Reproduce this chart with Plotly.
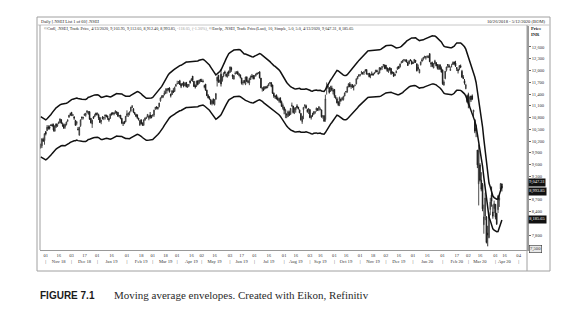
import pandas as pd
import plotly.graph_objects as go

# ---------------- data (NIFTY 50 daily) ----------------
first_day = "2018-10-26"
axis_end = "2020-05-12"
holidays = ["2018-11-08", "2018-11-23", "2018-12-25", "2019-03-04", "2019-03-21",
            "2019-04-17", "2019-04-19", "2019-04-29", "2019-05-01", "2019-06-05",
            "2019-08-12", "2019-08-15", "2019-09-02", "2019-09-10", "2019-10-02",
            "2019-10-08", "2019-10-21", "2019-10-28", "2019-11-12", "2019-12-25",
            "2020-02-21", "2020-03-10", "2020-04-02", "2020-04-06", "2020-04-10",
            "2020-04-14", "2020-05-01"]
special_sessions = ["2019-10-27", "2020-02-01"]

# closes of the 9 sessions before the first plotted day (for the 10-day SMA)
warmup_close = [10472, 10512, 10584, 10453, 10303, 10245, 10146, 10224, 10124]

open_ = [
    10122, 10078, 10240, 10209,
    10441, 10463, 10559, 10553, 10614, 10614, 10607, 10452, 10634, 10580, 10644, 10670, 10740, 10611, 10612, 10568, 10621, 10709, 10808, 10892,
    10930, 10853, 10820, 10728, 10644, 10508, 10350, 10591, 10810, 10784, 10853, 10855, 10930, 10886, 10945, 10780, 10635, 10817, 10820, 10913,
    10881, 10868, 10796, 10699, 10804, 10786, 10863, 10860, 10834, 10777, 10777, 10899, 10920, 10915, 10919, 10949, 10931, 10844, 10859, 10780, 10653, 10702, 10690,
    10851, 10876, 10908, 10965, 11070, 11024, 10931, 10879, 10870, 10783, 10607, 10742, 10664, 10602, 10738, 10782, 10813, 10778, 10866, 10810,
    10842, 10864, 11026, 11068, 11059, 11078, 11226, 11303, 11358, 11376, 11412, 11475, 11541, 11549, 11396, 11387, 11481, 11466, 11626,
    11665, 11711, 11736, 11660, 11638, 11705, 11612, 11698, 11569, 11612, 11736, 11746, 11857, 11727, 11612, 11602, 11735, 11683, 11776,
    11726, 11722, 11605, 11652, 11497, 11360, 11315, 11256, 11151, 11271, 11126, 11264, 11738, 11883, 11724, 11905, 11747, 11855, 11962, 11908, 11844, 11974,
    11954, 12069, 11886, 11780, 11921, 11929, 11963, 11871, 11889, 11811, 11682, 11746, 11649, 11837, 11725, 11681, 11769, 11860, 11874,
    11840, 11868, 11928, 11929, 11964, 11806, 11531, 11537, 11524, 11587, 11556, 11608, 11670, 11687, 11628, 11420, 11348, 11378, 11290, 11224, 11304, 11202, 11035,
    11060, 10896, 10895, 10822, 10936, 10878, 11087, 11092, 10925, 10996, 11094, 11063, 10995, 10905, 10690, 11000, 11106, 11101, 10996, 10987,
    11002, 10790, 10860, 10883, 10928, 10986, 11028, 11007, 10994, 10995, 10836, 10845, 10747, 11542, 11589, 11564, 11469, 11556, 11489,
    11516, 11323, 11276, 11196, 11139, 11267, 11257, 11257, 11349, 11465, 11464, 11580, 11657, 11589, 11642, 11603, 11627, 11657, 11788, 11884,
    11887, 11928, 11946, 11948, 11989, 12023, 11912, 11931, 11865, 11904, 11915, 11914, 11958, 11999, 11922, 11932, 12067, 12069, 12132, 12138,
    12137, 12067, 11970, 12072, 12052, 11939, 11953, 11867, 11944, 12027, 12102, 12095, 12202, 12218, 12267, 12235, 12269, 12211, 12172, 12274, 12247,
    12202, 12199, 12261, 12170, 12079, 11939, 12149, 12271, 12297, 12334, 12350, 12348, 12328, 12431, 12196, 12195, 12061, 12175, 12198, 12148, 12050, 12147, 12053,
    12018, 11627, 11797, 12005, 12151, 12121, 12003, 12108, 12151, 12219, 12190, 12078, 12028, 12038, 12119, 11979, 11827, 11738, 11537, 11354,
    11387, 11290, 11351, 11350, 10943, 10743, 10531, 9969, 9107, 9588, 9198, 9091, 8063, 8284, 8263, 7849, 7735, 8452, 8818, 8386, 8475,
    8584, 8356, 8446, 8689, 8973, 9104,
]
high = [
    10128, 10275, 10285, 10396,
    10441, 10607, 10600, 10600, 10616, 10645, 10645, 10597, 10651, 10646, 10695, 10775, 10761, 10672, 10646, 10638, 10696, 10757, 10862, 10922,
    10942, 10890, 10821, 10735, 10704, 10558, 10567, 10752, 10823, 10815, 10900, 10915, 10986, 10962, 10963, 10782, 10747, 10834, 10894, 10924,
    10923, 10896, 10815, 10741, 10835, 10818, 10870, 10870, 10851, 10783, 10896, 10929, 10930, 10928, 10987, 10949, 10932, 10866, 10865, 10780, 10690, 10710, 10838,
    10983, 10923, 10956, 11072, 11119, 11041, 10932, 10895, 10870, 10793, 10727, 10753, 10666, 10753, 10799, 10822, 10888, 10849, 10940, 10864,
    10877, 10998, 11073, 11089, 11066, 11176, 11309, 11370, 11370, 11487, 11544, 11543, 11556, 11573, 11407, 11497, 11549, 11588, 11658,
    11738, 11729, 11761, 11671, 11673, 11713, 11689, 11699, 11657, 11656, 11738, 11801, 11857, 11727, 11646, 11740, 11749, 11762, 11779,
    11789, 11770, 11633, 11657, 11509, 11396, 11346, 11276, 11250, 11286, 11270, 11427, 11845, 11884, 11769, 12041, 11859, 11957, 11997, 11913, 11968, 12002,
    12103, 12096, 11900, 11879, 11976, 11981, 11992, 11934, 11888, 11814, 11749, 11755, 11842, 11847, 11755, 11815, 11872, 11912, 11885,
    11871, 11918, 11946, 11961, 11982, 11808, 11567, 11593, 11601, 11606, 11632, 11667, 11707, 11703, 11640, 11438, 11360, 11378, 11335, 11307, 11305, 11233, 11159,
    11076, 11024, 10895, 10977, 10975, 11043, 11181, 11092, 11057, 11068, 11138, 11071, 11000, 10908, 10845, 11070, 11142, 11129, 11021, 11043,
    11003, 10850, 10920, 10958, 10958, 11055, 11034, 11084, 11053, 10996, 10853, 10859, 11382, 11695, 11655, 11564, 11610, 11612, 11541,
    11526, 11370, 11318, 11218, 11333, 11281, 11318, 11353, 11434, 11471, 11597, 11670, 11705, 11659, 11644, 11618, 11635, 11800, 11861, 11903,
    11907, 11989, 11958, 11981, 12034, 12021, 11926, 11937, 11918, 11974, 11927, 11957, 12021, 12022, 11973, 12084, 12069, 12108, 12158, 12152,
    12138, 12069, 12054, 12081, 12058, 11981, 11956, 11923, 12005, 12098, 12119, 12182, 12237, 12269, 12294, 12287, 12284, 12212, 12258, 12287, 12248,
    12222, 12290, 12265, 12179, 12152, 12044, 12225, 12311, 12338, 12374, 12355, 12389, 12386, 12430, 12219, 12226, 12189, 12274, 12216, 12164, 12163, 12150, 12103,
    12018, 11750, 11990, 12099, 12160, 12160, 12103, 12172, 12231, 12225, 12247, 12084, 12031, 12135, 12152, 12016, 11883, 11783, 11664, 11385,
    11433, 11343, 11352, 11389, 10995, 10752, 10616, 9970, 10112, 9634, 9403, 9128, 8575, 8883, 8284, 8036, 8376, 8749, 9038, 8576, 8678,
    8584, 8356, 8819, 8819, 9128, 9112,
]
low = [
    10005, 10020, 10175, 10105,
    10342, 10457, 10489, 10491, 10582, 10569, 10441, 10440, 10532, 10557, 10631, 10667, 10630, 10562, 10512, 10514, 10596, 10682, 10795, 10836,
    10835, 10833, 10739, 10588, 10599, 10474, 10334, 10560, 10739, 10749, 10844, 10820, 10917, 10880, 10739, 10649, 10534, 10764, 10817, 10853,
    10853, 10735, 10662, 10629, 10750, 10733, 10749, 10808, 10740, 10693, 10770, 10848, 10861, 10856, 10896, 10865, 10818, 10798, 10756, 10631, 10583, 10630, 10678,
    10813, 10813, 10853, 10936, 11043, 10914, 10871, 10809, 10765, 10723, 10585, 10629, 10586, 10587, 10714, 10760, 10807, 10729, 10765, 10785,
    10818, 10817, 10990, 11007, 10999, 11058, 11201, 11292, 11296, 11370, 11405, 11412, 11484, 11436, 11311, 11375, 11423, 11451, 11580,
    11644, 11655, 11629, 11550, 11615, 11570, 11606, 11571, 11558, 11578, 11661, 11730, 11710, 11578, 11539, 11579, 11626, 11655, 11700,
    11709, 11699, 11546, 11484, 11345, 11288, 11251, 11126, 11108, 11136, 11108, 11260, 11591, 11685, 11685, 11591, 11712, 11828, 11913, 11828, 11819, 11857,
    11937, 11967, 11780, 11770, 11894, 11909, 11889, 11850, 11798, 11640, 11625, 11674, 11626, 11705, 11670, 11625, 11757, 11820, 11772,
    11775, 11845, 11889, 11924, 11797, 11549, 11461, 11475, 11524, 11542, 11555, 11598, 11663, 11573, 11399, 11302, 11277, 11265, 11231, 11180, 11164, 11070, 10999,
    10882, 10783, 10782, 10814, 10842, 10876, 11086, 10902, 10887, 10924, 11036, 11004, 10909, 10718, 10637, 10756, 11050, 11020, 10922, 10888,
    10782, 10746, 10817, 10867, 10888, 10950, 10969, 10962, 10990, 10796, 10771, 10692, 10691, 11384, 11536, 11410, 11452, 11473, 11390,
    11303, 11266, 11159, 11091, 11090, 11200, 11233, 11232, 11338, 11420, 11429, 11573, 11572, 11529, 11555, 11491, 11599, 11647, 11776, 11834,
    11849, 11897, 11894, 11887, 11974, 11897, 11880, 11825, 11803, 11874, 11867, 11910, 11945, 11956, 11901, 11929, 12002, 12012, 12095, 12034,
    12030, 11967, 11940, 11996, 11888, 11924, 11833, 11858, 11932, 12023, 12045, 12075, 12179, 12191, 12234, 12236, 12203, 12119, 12162, 12235, 12151,
    12165, 12195, 12191, 11975, 12005, 11929, 12127, 12213, 12257, 12308, 12279, 12315, 12321, 12214, 12088, 12087, 12061, 12163, 12107, 12024, 12012, 12011, 11945,
    11633, 11614, 11775, 11974, 12071, 12068, 11990, 12076, 12144, 12139, 12091, 11987, 11924, 12006, 12071, 11813, 11779, 11639, 11521, 11176,
    11036, 11082, 11196, 11244, 10807, 10400, 10298, 9508, 8555, 9163, 8915, 8407, 7833, 8179, 7584, 7511, 7715, 8305, 8522, 8215, 8358,
    8198, 8055, 8360, 8516, 8905, 8912,
]
close = [
    10030, 10251, 10199, 10387,
    10380, 10553, 10524, 10530, 10598, 10585, 10482, 10582, 10576, 10616, 10682, 10763, 10656, 10601, 10527, 10628, 10685, 10729, 10859, 10877,
    10883, 10870, 10782, 10601, 10694, 10488, 10550, 10738, 10792, 10805, 10889, 10908, 10967, 10951, 10754, 10663, 10730, 10779, 10859, 10863,
    10911, 10792, 10673, 10727, 10772, 10802, 10855, 10821, 10795, 10738, 10887, 10890, 10905, 10907, 10962, 10923, 10831, 10850, 10780, 10662, 10652, 10652, 10831,
    10894, 10912, 10935, 11062, 11069, 10944, 10888, 10831, 10794, 10746, 10724, 10641, 10605, 10736, 10789, 10792, 10880, 10835, 10807, 10793,
    10864, 10988, 11053, 11058, 11035, 11169, 11301, 11342, 11343, 11427, 11462, 11532, 11521, 11456, 11355, 11483, 11445, 11570, 11624,
    11669, 11714, 11644, 11598, 11666, 11605, 11672, 11584, 11597, 11643, 11690, 11787, 11753, 11594, 11576, 11727, 11641, 11755, 11748,
    11725, 11712, 11598, 11498, 11359, 11302, 11279, 11148, 11223, 11157, 11257, 11407, 11828, 11709, 11738, 11657, 11844, 11925, 11928, 11861, 11946, 11923,
    12089, 12021, 11844, 11871, 11923, 11966, 11906, 11915, 11823, 11672, 11691, 11691, 11832, 11724, 11700, 11797, 11848, 11842, 11789,
    11865, 11910, 11916, 11946, 11811, 11558, 11555, 11499, 11582, 11552, 11588, 11663, 11687, 11597, 11419, 11347, 11332, 11271, 11253, 11284, 11189, 11085, 11118,
    10980, 10997, 10863, 10948, 10856, 11032, 11110, 10926, 11029, 11048, 11054, 11017, 10919, 10741, 10829, 11058, 11106, 11046, 10948, 11023,
    10798, 10844, 10848, 10947, 10946, 11036, 10982, 11076, 11004, 10818, 10841, 10705, 11274, 11600, 11588, 11441, 11571, 11512, 11474,
    11359, 11314, 11175, 11126, 11313, 11234, 11305, 11341, 11428, 11464, 11586, 11662, 11588, 11604, 11582, 11584, 11628, 11787, 11844, 11877,
    11891, 11941, 11918, 11966, 12012, 11908, 11913, 11840, 11872, 11895, 11885, 11940, 11999, 11969, 11914, 12074, 12038, 12101, 12151, 12056,
    12049, 11994, 12044, 12019, 11922, 11937, 11857, 11910, 11972, 12087, 12053, 12165, 12222, 12260, 12272, 12263, 12215, 12127, 12246, 12256, 12168,
    12183, 12283, 12227, 11993, 12053, 12025, 12216, 12257, 12330, 12362, 12343, 12355, 12352, 12224, 12170, 12107, 12180, 12248, 12120, 12056, 12130, 12036, 11962,
    11662, 11708, 11980, 12090, 12138, 12098, 12032, 12108, 12202, 12175, 12113, 12046, 11993, 12126, 12081, 11829, 11798, 11679, 11633, 11202,
    11133, 11304, 11252, 11270, 10989, 10451, 10458, 9590, 9955, 9197, 8968, 8469, 8264, 8745, 7610, 7801, 8318, 8641, 8660, 8281, 8598,
    8254, 8084, 8792, 8748, 9112, 8994,
]

# axis labels that stay visible (9,000 and 8,100 sit under the last-value boxes)
price_ticks = [7800, 8400, 8700, 9300, 9600, 9900, 10200, 10500,
               10800, 11100, 11400, 11700, 12000, 12300, 12600]
last_values = [9047.31, 8993.85, 8185.65]
last_labels = ["9,047.31", "8,993.85", "8,185.65"]

header_left = "Daily [.NSEI List 1 of 60] .NSEI"
header_right = "10/26/2018 - 5/12/2020 (BOM)"
legend_a = "©Cndl, .NSEI, Trade Price, 4/13/2020, 9,103.95, 9,112.05, 8,912.40, 8,993.85, "
legend_chg = "-118.05, (-1.30%),"
legend_b = " ©Envlp, .NSEI, Trade Price(Last), 10, Simple, 5.0, 5.0, 4/13/2020, 9,047.31, 8,185.65"
caption_num = "FIGURE 7.1"
caption_txt = "Moving average envelopes. Created with Eikon, Refinitiv"

# ---------------- derived ----------------
assert len(open_) == len(high) == len(low) == len(close), (len(open_), len(high), len(low), len(close))

bdays = pd.bdate_range(first_day, axis_end)
cal = bdays.difference(pd.DatetimeIndex(holidays)).union(pd.DatetimeIndex(special_sessions)).sort_values()
n = len(close)
idx = list(range(n))

sma = pd.Series(warmup_close + close).rolling(10).mean().iloc[9:].reset_index(drop=True)
upper = sma * 1.05
lower = sma * 0.95

# ticks: first session on/after the 1st and the 16th of every month
tickvals, ticktext = [], []
for m in pd.period_range("2018-11", "2020-05", freq="M"):
    for day in (1, 16):
        target = pd.Timestamp(m.year, m.month, day)
        pos = cal.searchsorted(target)
        if pos < len(cal) and cal[pos].month == m.month:
            d = cal[pos]
            tickvals.append(pos)
            ticktext.append(f"{d:%d}<br>|" if day == 1 else f"{d:%d}<br>{d:%b} {d:%y}")

# pixel helpers for the layout frame
L, R, T, B = 40, 527, 26, 250
W, H = 570, 328
def px(x):
    return (x - L) / (R - L)
def py(y):
    return (B - y) / (B - T)

SERIF = "Liberation Serif"
fig = go.Figure()
fig.add_trace(go.Candlestick(
    x=idx, open=open_, high=high, low=low, close=close,
    increasing=dict(line=dict(color="#3a3a3a", width=0.9), fillcolor="#8a8a8a"),
    decreasing=dict(line=dict(color="#1a1a1a", width=0.9), fillcolor="#1a1a1a"),
    whiskerwidth=0, showlegend=False, hoverinfo="skip"))
fig.add_trace(go.Scatter(x=idx, y=upper, mode="lines", line=dict(color="#111", width=1.5), showlegend=False, hoverinfo="skip"))
fig.add_trace(go.Scatter(x=idx, y=lower, mode="lines", line=dict(color="#111", width=1.5), showlegend=False, hoverinfo="skip"))

fig.update_layout(
    width=W, height=H, margin=dict(l=L, r=W - R, t=T, b=H - B),
    paper_bgcolor="white", plot_bgcolor="white", showlegend=False,
    xaxis=dict(range=[-0.5, len(cal) - 0.5], tickvals=tickvals, ticktext=ticktext, tickangle=0,
               tickfont=dict(family=SERIF, size=4.6, color="#333"), ticks="",
               showgrid=False, zeroline=False, showline=True, linecolor="#999", linewidth=1,
               rangeslider=dict(visible=False), fixedrange=True),
    yaxis=dict(side="right", range=[7417, 13136], tickvals=price_ticks,
               ticktext=[f"{v:,}" for v in price_ticks],
               tickfont=dict(family=SERIF, size=4.6, color="#333"),
               ticks="outside", ticklen=2, tickcolor="#666",
               showgrid=False, zeroline=False, showline=True, linecolor="#999", linewidth=1.5,
               fixedrange=True),
)

line_col = "#a0a0a0"
shapes = [
    dict(type="rect", xref="paper", yref="paper", x0=px(37), x1=px(550), y0=py(271), y1=py(17),
         line=dict(color=line_col, width=1), fillcolor="rgba(0,0,0,0)"),
    dict(type="line", xref="paper", yref="paper", x0=px(37), x1=px(550), y0=py(25), y1=py(25),
         line=dict(color="#c8c8c8", width=1)),
    dict(type="line", xref="paper", yref="paper", x0=px(40), x1=px(40), y0=py(250), y1=py(25),
         line=dict(color=line_col, width=1)),
    dict(type="line", xref="paper", yref="paper", x0=px(527), x1=px(527), y0=py(271), y1=py(25),
         line=dict(color=line_col, width=1)),
]
fig.update_layout(shapes=shapes)

ann = []
def text(x, y, s, size=4.6, anchor="left", color="#222", family=SERIF, **kw):
    ann.append(dict(xref="paper", yref="paper", x=px(x), y=py(y), text=s, showarrow=False,
                    xanchor=anchor, yanchor="middle", font=dict(family=family, size=size, color=color), **kw))

text(39, 21.5, header_left, size=4.4)
text(548, 21.5, header_right, size=4.6, anchor="right")
text(42, 28.5, legend_a + f"<span style='color:#9a9a9a'>{legend_chg}</span>" + legend_b, size=4.2)
text(529, 28.5, "<b>Price</b>", size=4.6)
text(529, 34.5, "<b>INR</b>", size=4.6)
text(38, 295, f"<b>{caption_num}</b>", size=10, family="Liberation Sans", color="#1a1a1a")
text(112, 295, caption_txt, size=11, color="#2a2a2a")

for val, lab, shift in zip(last_values, last_labels, [3.3, -3.3, 0]):
    ann.append(dict(xref="paper", yref="y", x=1.0, y=val, yshift=shift, text=lab, showarrow=False,
                    xanchor="left", yanchor="middle", xshift=1,
                    font=dict(family=SERIF, size=4.4, color="white"), bgcolor="#111", borderpad=0.3))
ann.append(dict(xref="paper", yref="paper", x=px(529), y=py(249), text="7,500", showarrow=False,
                xanchor="left", yanchor="middle", font=dict(family=SERIF, size=4.6, color="#333"),
                bgcolor="#e8e8e8", bordercolor="#333", borderwidth=0.6, borderpad=0.5))
fig.update_layout(annotations=ann)

fig.write_html("out.html")
